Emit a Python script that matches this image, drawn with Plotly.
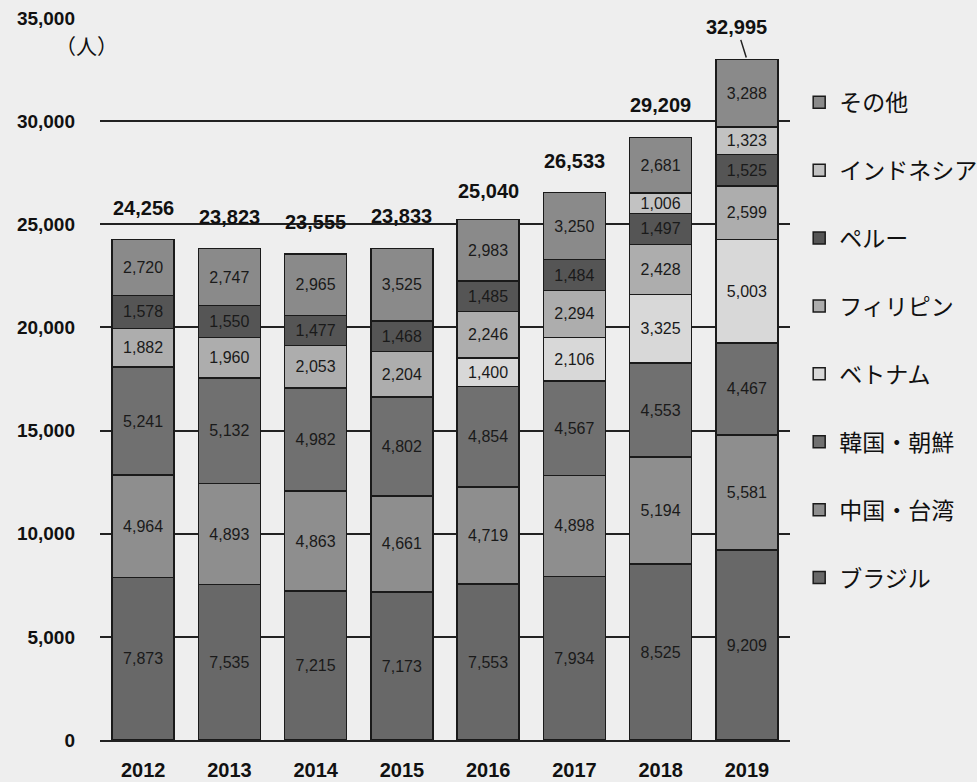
import plotly.graph_objects as go

years = ["2012", "2013", "2014", "2015", "2016", "2017", "2018", "2019"]
brazil = [7873, 7535, 7215, 7173, 7553, 7934, 8525, 9209]
china_taiwan = [4964, 4893, 4863, 4661, 4719, 4898, 5194, 5581]
korea = [5241, 5132, 4982, 4802, 4854, 4567, 4553, 4467]
vietnam = [None, None, None, None, 1400, 2106, 3325, 5003]
philippines = [1882, 1960, 2053, 2204, 2246, 2294, 2428, 2599]
peru = [1578, 1550, 1477, 1468, 1485, 1484, 1497, 1525]
indonesia = [None, None, None, None, None, None, 1006, 1323]
others = [2720, 2747, 2965, 3525, 2983, 3250, 2681, 3288]
totals = [24256, 23823, 23555, 23833, 25040, 26533, 29209, 32995]

series = [
    ("ブラジル", brazil, "#686868"),
    ("中国・台湾", china_taiwan, "#8e8e8e"),
    ("韓国・朝鮮", korea, "#707070"),
    ("ベトナム", vietnam, "#d8d8d8"),
    ("フィリピン", philippines, "#adadad"),
    ("ペルー", peru, "#555555"),
    ("インドネシア", indonesia, "#c2c2c2"),
    ("その他", others, "#8a8a8a"),
]

NUMFONT = "Liberation Sans, Arial"

fig = go.Figure()
n = len(series)
for i, (name, vals, col) in enumerate(series):
    fig.add_trace(go.Bar(
        x=years, y=vals, name=name, legendgroup=str(i), legendrank=n - i,
        marker=dict(color=col, line=dict(color="#1a1a1a", width=1.5)),
        text=[f"{v:,}" if v else None for v in vals],
        textposition="inside", insidetextanchor="middle",
        textfont=dict(family=NUMFONT, size=16, color="#1a1a1a"),
        textangle=0,
    ))

for idx, (yr, t) in enumerate(zip(years, totals)):
    if idx == len(years) - 1:
        fig.add_annotation(x=idx, y=t, text=f"<b>{t:,}</b>", showarrow=True, arrowhead=0,
                           arrowwidth=1.5, arrowcolor="#222", ax=-10, ay=-32, standoff=2,
                           font=dict(family=NUMFONT, size=20, color="#111"))
    else:
        fig.add_annotation(x=idx, y=t, text=f"<b>{t:,}</b>", showarrow=False, yanchor="bottom",
                           yshift=19,
                           font=dict(family=NUMFONT, size=20, color="#111"))

fig.add_annotation(xref="paper", yref="paper", x=-0.019, y=0.962, text="（人）",
                   showarrow=False, xanchor="center", yanchor="middle",
                   font=dict(family="Noto Sans CJK JP", size=21, color="#111"))

fig.update_layout(
    barmode="stack", bargap=0.28,
    width=977, height=782,
    margin=dict(l=100, r=187, t=18, b=42),
    paper_bgcolor="#eeeeee", plot_bgcolor="#eeeeee",
    showlegend=True,
    uniformtext=dict(mode="show", minsize=16),
    legend=dict(xref="container", x=0.818, y=0.913, xanchor="left", yanchor="top",
                traceorder="grouped", tracegroupgap=35,
                font=dict(family="Noto Sans CJK JP", size=23, color="#111"),
                bgcolor="rgba(0,0,0,0)", itemwidth=30),
    yaxis=dict(range=[0, 35000], dtick=5000, tickformat=",", showgrid=True,
               gridcolor="#222", gridwidth=1.5, zeroline=False, showline=False,
               ticks="", ticklabelstandoff=24, automargin=False,
               tickfont=dict(family=NUMFONT, size=19, color="#111", weight="bold")),
    xaxis=dict(type="category", categoryorder="array", categoryarray=years,
               range=[-0.5, len(years) - 0.5], autorange=False, automargin=False,
               showline=True, linecolor="#222", linewidth=1.5, ticks="",
               ticklabelstandoff=11,
               tickfont=dict(family=NUMFONT, size=20, color="#111", weight="bold")),
)

fig.write_html("out.html")
